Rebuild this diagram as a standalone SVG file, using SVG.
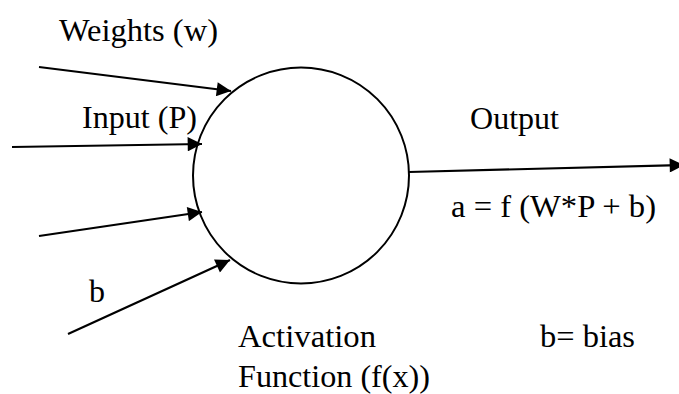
<svg xmlns="http://www.w3.org/2000/svg" width="679" height="394" viewBox="0 0 679 394">
<style>
.t{font-family:'Liberation Serif','Times New Roman',serif;font-size:32px;fill:#000}
.c{stroke:#000;stroke-width:2.2;fill:none}
</style>
<defs>
<marker id="ah" viewBox="0 0 10 10" refX="10" refY="5" markerWidth="8" markerHeight="6.5" markerUnits="strokeWidth" orient="auto">
<path d="M0,0 L10,5 L0,10 z" fill="#000"/>
</marker>
</defs>
<rect width="679" height="394" fill="#fff"/>
<g id="neuron">
<circle cx="301" cy="175.5" r="108" fill="#fff" stroke="#000" stroke-width="2"/>
</g>
<g id="connectors">
<line class="c" x1="39" y1="67" x2="231" y2="91" marker-end="url(#ah)"/>
<line class="c" x1="12" y1="147" x2="202" y2="144" marker-end="url(#ah)"/>
<line class="c" x1="39" y1="236" x2="202" y2="212" marker-end="url(#ah)"/>
<line class="c" x1="68" y1="334" x2="230" y2="260" marker-end="url(#ah)"/>
<line class="c" x1="409" y1="172" x2="684" y2="165" marker-end="url(#ah)"/>
</g>
<g id="labels">
<text class="t" x="59" y="41" textLength="159" lengthAdjust="spacingAndGlyphs">Weights (w)</text>
<text class="t" x="82" y="128" textLength="115" lengthAdjust="spacingAndGlyphs">Input (P)</text>
<text class="t" x="89" y="302">b</text>
<text class="t" x="470" y="129" textLength="89" lengthAdjust="spacingAndGlyphs">Output</text>
<text class="t" x="451" y="217" textLength="205" lengthAdjust="spacingAndGlyphs">a = f (W*P + b)</text>
<text class="t" x="238" y="347" textLength="138" lengthAdjust="spacingAndGlyphs">Activation</text>
<text class="t" x="238" y="387" textLength="192" lengthAdjust="spacingAndGlyphs">Function (f(x))</text>
<text class="t" x="540" y="347" textLength="95" lengthAdjust="spacingAndGlyphs">b= bias</text>
</g>
</svg>
